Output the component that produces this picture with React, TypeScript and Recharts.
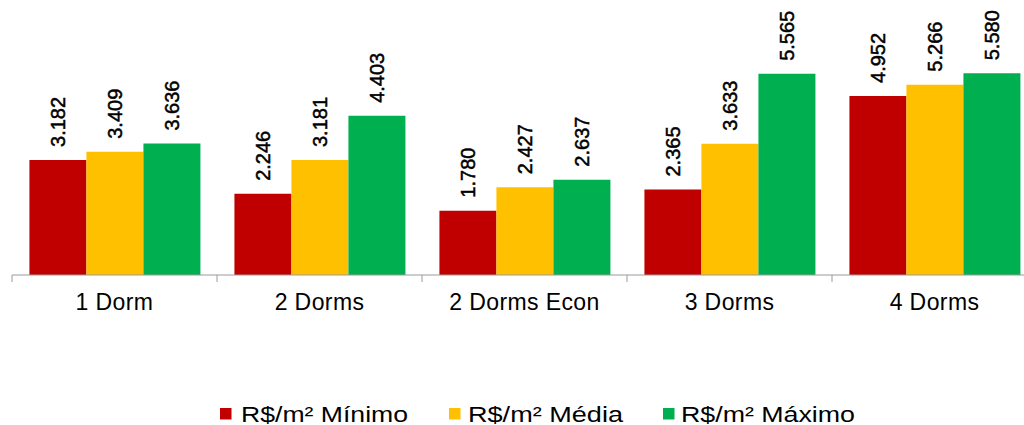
import React from 'react';
import { BarChart, Bar, XAxis, YAxis, LabelList, Legend } from 'recharts';

const categories = ['1 Dorm', '2 Dorms', '2 Dorms Econ', '3 Dorms', '4 Dorms'];
const minimo = [3182, 2246, 1780, 2365, 4952];
const media = [3409, 3181, 2427, 3633, 5266];
const maximo = [3636, 4403, 2637, 5565, 5580];
const seriesNames = ['R$/m² Mínimo', 'R$/m² Média', 'R$/m² Máximo'];
const seriesColors = ['#C00000', '#FFC000', '#00B050'];

// legend layout (style only)
const legendSquareX = [220, 449, 663];
const legendTextX = [241, 468, 681];
const legendTextLen = [167, 155, 174];

const data = categories.map((c, i) => ({
  name: c,
  minimo: minimo[i],
  media: media[i],
  maximo: maximo[i],
}));

const FONT = '"Liberation Sans", Arial, Helvetica, sans-serif';
const AXIS_GRAY = '#9a9a9a';

const fmt = (v: number) => {
  const s = String(Math.round(v));
  return s.replace(/\B(?=(\d{3})+(?!\d))/g, '.');
};

const ValueLabel = (props: any) => {
  const { x, y, width, value } = props;
  const cx = Number(x) + Number(width) / 2;
  const ty = Number(y) - 13;
  return (
    <text
      x={cx}
      y={ty}
      dy="0.36em"
      transform={`rotate(-90, ${cx}, ${ty})`}
      textAnchor="start"
      fontSize={20}
      fontFamily={FONT}
      fill="#000"
      stroke="#000"
      strokeWidth={0.5}
    >
      {fmt(Number(value))}
    </text>
  );
};

const CatTick = (props: any) => {
  const { x, y, payload, index, visibleTicksCount } = props;
  const half = payload && typeof payload.offset === 'number' ? payload.offset : 0;
  const isLast = index === (visibleTicksCount ?? categories.length) - 1;
  return (
    <g>
      {half > 0 && (
        <line x1={x - half} x2={x - half} y1={y} y2={y + 7} stroke={AXIS_GRAY} strokeWidth={1} />
      )}
      {half > 0 && isLast && (
        <line x1={x + half} x2={x + half} y1={y} y2={y + 7} stroke={AXIS_GRAY} strokeWidth={1} />
      )}
      <text
        x={x}
        y={y}
        dy={35}
        textAnchor="middle"
        fontSize={23}
        letterSpacing={0.4}
        fontFamily={FONT}
        fill="#000"
      >
        {payload.value}
      </text>
    </g>
  );
};

const LegendContent = () => {
  return (
    <svg width={1024} height={27} style={{ display: 'block' }}>
      {seriesNames.map((n, i) => (
        <g key={i}>
          <rect x={legendSquareX[i]} y={10} width={11.5} height={11.5} fill={seriesColors[i]} />
          <text
            x={legendTextX[i]}
            y={23.5}
            fontSize={22}
            fontFamily={FONT}
            fill="#000"
            textLength={legendTextLen[i]}
            lengthAdjust="spacingAndGlyphs"
          >
            {n}
          </text>
        </g>
      ))}
    </svg>
  );
};

export default function App() {
  return (
    <div
      style={{
        position: 'absolute',
        left: 0,
        top: 0,
        width: 1024,
        height: 425,
        overflow: 'hidden',
        background: '#fff',
      }}
    >
      <BarChart
        width={1040}
        height={425}
        data={data}
        margin={{ top: 0, right: 3, bottom: 110, left: 12 }}
        barCategoryGap="8.5%"
        barGap={0}
      >
        <XAxis
          dataKey="name"
          axisLine={{ stroke: AXIS_GRAY, strokeWidth: 1 }}
          tickLine={false}
          tickSize={0}
          tickMargin={0}
          tick={<CatTick />}
          interval={0}
          height={40}
        />
        <YAxis hide domain={[0, 7607]} allowDataOverflow />
        <Legend
          verticalAlign="middle"
          align="center"
          layout="horizontal"
          wrapperStyle={{ position: 'absolute', left: 0, top: 398, width: 1024, height: 27 }}
          content={<LegendContent />}
        />
        <Bar dataKey="minimo" name={seriesNames[0]} fill={seriesColors[0]} isAnimationActive={false}>
          <LabelList dataKey="minimo" content={<ValueLabel />} />
        </Bar>
        <Bar dataKey="media" name={seriesNames[1]} fill={seriesColors[1]} isAnimationActive={false}>
          <LabelList dataKey="media" content={<ValueLabel />} />
        </Bar>
        <Bar dataKey="maximo" name={seriesNames[2]} fill={seriesColors[2]} isAnimationActive={false}>
          <LabelList dataKey="maximo" content={<ValueLabel />} />
        </Bar>
      </BarChart>
    </div>
  );
}
